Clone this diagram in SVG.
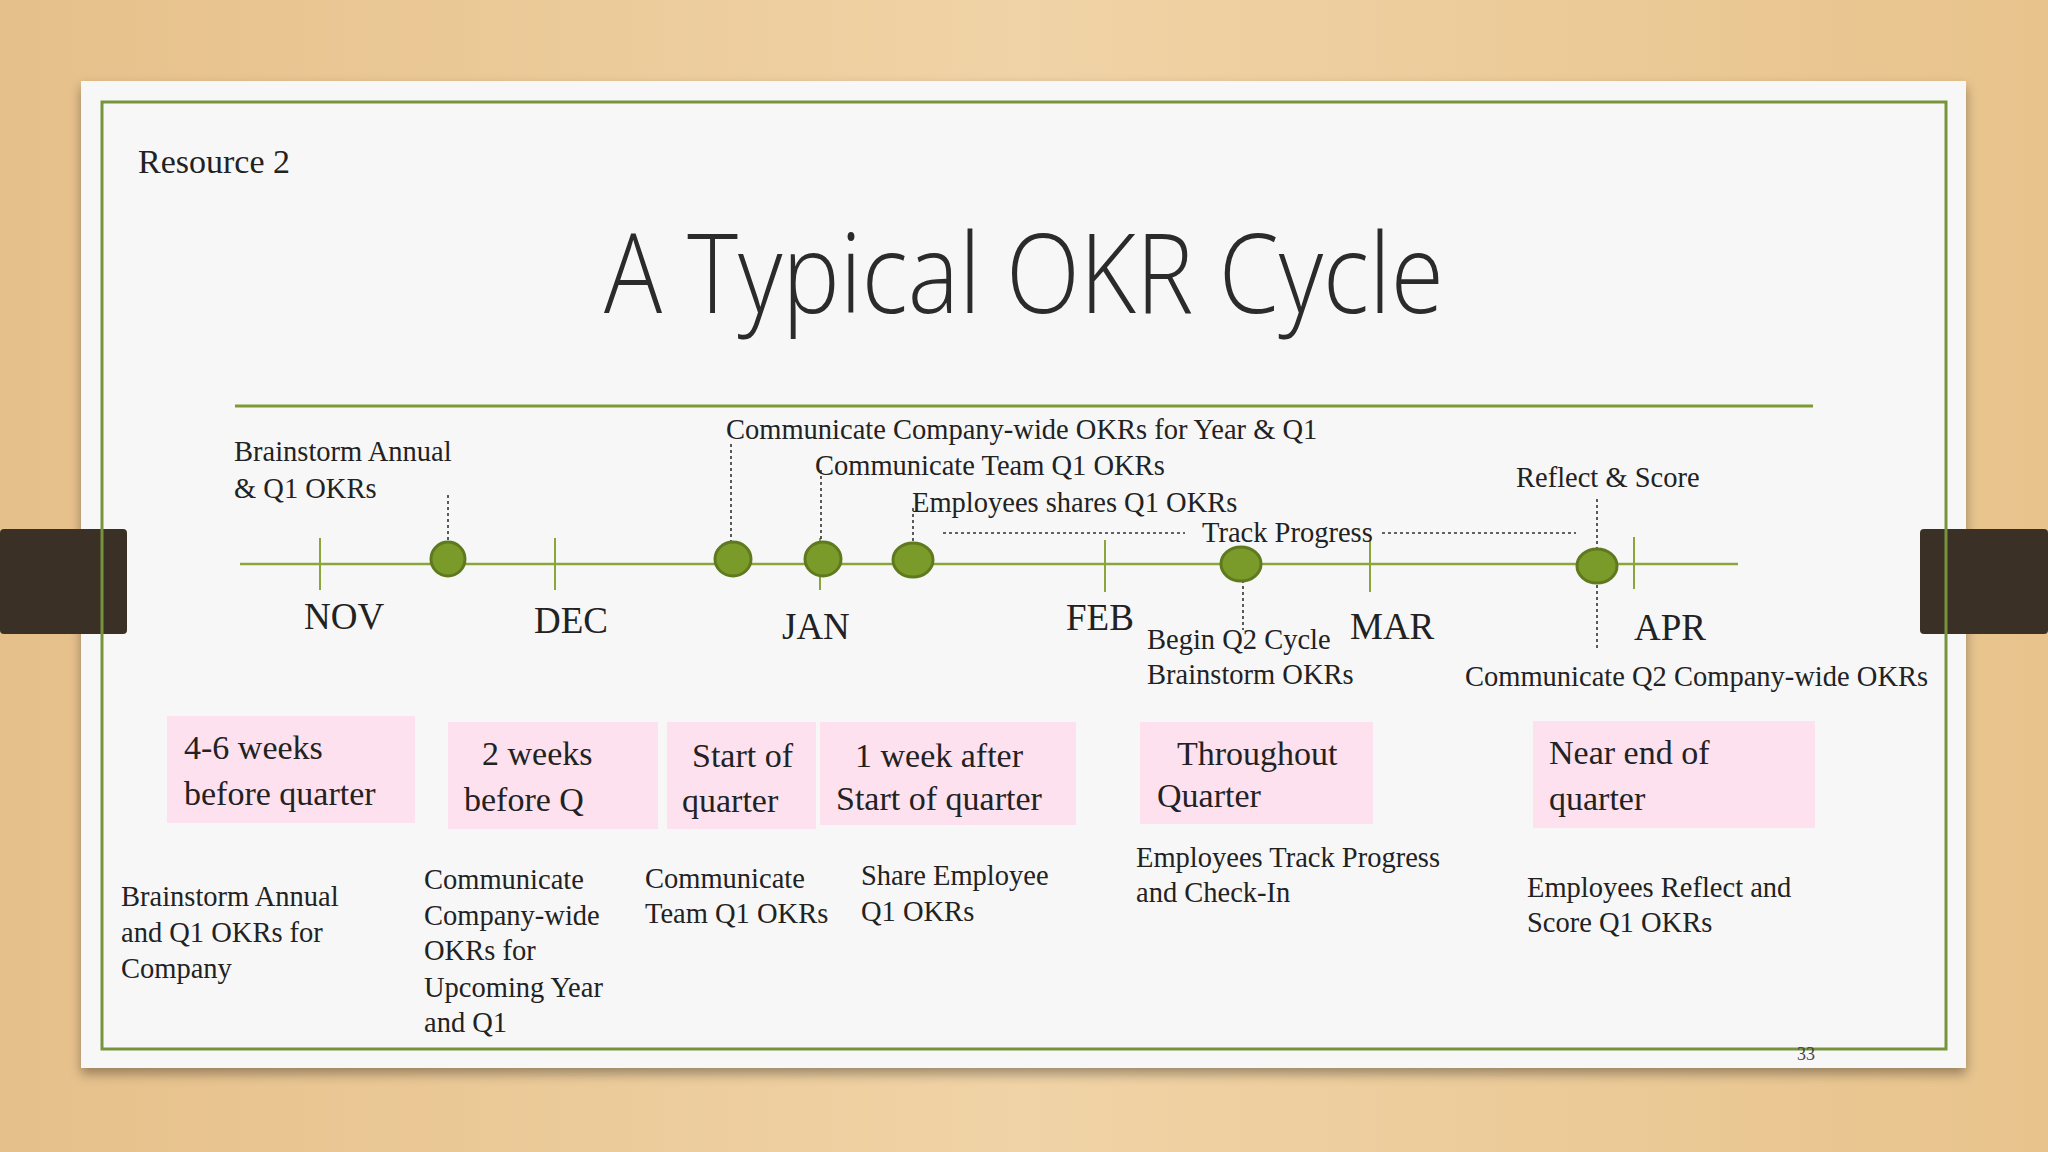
<svg xmlns="http://www.w3.org/2000/svg" width="2048" height="1152" viewBox="0 0 2048 1152">
<defs>
<linearGradient id="wood" x1="0" y1="0" x2="1" y2="0">
<stop offset="0" stop-color="#e6c08a"/><stop offset="0.5" stop-color="#f0d3a6"/><stop offset="1" stop-color="#e8c38c"/>
</linearGradient>
<filter id="sh" x="-5%" y="-5%" width="110%" height="115%"><feDropShadow dx="0" dy="6" stdDeviation="6" flood-color="#000" flood-opacity="0.35"/></filter>
<style>
.s{font-family:"Liberation Serif",serif;fill:#222;font-size:28.5px}
.m{font-family:"Liberation Serif",serif;fill:#222;font-size:37px}
.b{font-family:"Liberation Serif",serif;fill:#222;font-size:34px}
.box{fill:#fde1ef}
.dot{fill:#7a9a2a;stroke:#5f7a1e;stroke-width:3}
.tick{stroke:#8aa63a;stroke-width:2}
.dotl{stroke:#333;stroke-width:1.6;stroke-dasharray:3 3;fill:none}
</style>
</defs>
<rect width="2048" height="1152" fill="url(#wood)"/>
<rect x="81" y="81" width="1885" height="987" fill="#f7f7f8" filter="url(#sh)"/>
<rect x="0" y="529" width="127" height="105" rx="4" fill="#3a3026"/>
<rect x="1920" y="529" width="128" height="105" rx="4" fill="#3a3026"/>
<rect x="102" y="102" width="1844" height="947" fill="none" stroke="#77933c" stroke-width="3"/>
<text x="138" y="173" font-family="Liberation Serif,serif" font-size="34" fill="#222">Resource 2</text>
<text x="1024" y="313" font-family="Open Sans,sans-serif" font-size="110" font-weight="300" fill="#2b2b2b" text-anchor="middle" textLength="840" lengthAdjust="spacingAndGlyphs">A Typical OKR Cycle</text>
<line x1="235" y1="406" x2="1813" y2="406" stroke="#7f9a30" stroke-width="3"/>
<g id="connectors">
<line x1="240" y1="564" x2="1738" y2="564" stroke="#8aa63a" stroke-width="2.5"/>
<line class="tick" x1="320" y1="538" x2="320" y2="590"/>
<line class="tick" x1="555" y1="538" x2="555" y2="590"/>
<line class="tick" x1="820" y1="538" x2="820" y2="590"/>
<line class="tick" x1="1105" y1="540" x2="1105" y2="592"/>
<line class="tick" x1="1370" y1="540" x2="1370" y2="592"/>
<line class="tick" x1="1634" y1="537" x2="1634" y2="589"/>
<line class="dotl" x1="448" y1="495" x2="448" y2="541"/>
<line class="dotl" x1="731" y1="444" x2="731" y2="564"/>
<line class="dotl" x1="821" y1="470" x2="821" y2="556"/>
<line class="dotl" x1="913" y1="508" x2="913" y2="550"/>
<line class="dotl" x1="943" y1="533" x2="1185" y2="533"/>
<line class="dotl" x1="1382" y1="533" x2="1576" y2="533"/>
<line class="dotl" x1="1243" y1="580" x2="1243" y2="630"/>
<line class="dotl" x1="1597" y1="499" x2="1597" y2="548"/>
<line class="dotl" x1="1597" y1="585" x2="1597" y2="650"/>
</g>
<g id="events">
<ellipse class="dot" cx="448" cy="559" rx="17" ry="17"/>
<ellipse class="dot" cx="733" cy="559" rx="18" ry="17"/>
<ellipse class="dot" cx="823" cy="559" rx="18" ry="17"/>
<ellipse class="dot" cx="913" cy="560" rx="20" ry="17"/>
<ellipse class="dot" cx="1241" cy="564" rx="20" ry="17"/>
<ellipse class="dot" cx="1597" cy="566" rx="20" ry="17"/>
</g>
<g id="labels">
<text class="s" x="234" y="461">Brainstorm Annual</text>
<text class="s" x="234" y="498">&amp; Q1 OKRs</text>
<text class="s" x="726" y="439">Communicate Company-wide OKRs for Year &amp; Q1</text>
<text class="s" x="815" y="475">Communicate Team Q1 OKRs</text>
<text class="s" x="912" y="512">Employees shares Q1 OKRs</text>
<text class="s" x="1202" y="542">Track Progress</text>
<text class="s" x="1516" y="487">Reflect &amp; Score</text>
<text class="s" x="1147" y="649">Begin Q2 Cycle</text>
<text class="s" x="1147" y="684">Brainstorm OKRs</text>
<text class="s" x="1465" y="686">Communicate Q2 Company-wide OKRs</text>
<text class="m" x="304" y="629">NOV</text>
<text class="m" x="534" y="633">DEC</text>
<text class="m" x="782" y="639">JAN</text>
<text class="m" x="1066" y="630">FEB</text>
<text class="m" x="1350" y="639">MAR</text>
<text class="m" x="1634" y="640">APR</text>
</g>
<g id="box1"><rect class="box" x="167" y="716" width="248" height="107"/><text class="b" x="184" y="759">4-6 weeks</text><text class="b" x="184" y="805">before quarter</text></g>
<g id="box2"><rect class="box" x="448" y="722" width="210" height="107"/><text class="b" x="482" y="765">2 weeks</text><text class="b" x="464" y="811">before Q</text></g>
<g id="box3"><rect class="box" x="667" y="722" width="149" height="107"/><text class="b" x="692" y="767">Start of</text><text class="b" x="682" y="812">quarter</text></g>
<g id="box4"><rect class="box" x="820" y="722" width="256" height="103"/><text class="b" x="855" y="767" font-size="31">1 week after</text><text class="b" x="836" y="810" font-size="31">Start of quarter</text></g>
<g id="box5"><rect class="box" x="1140" y="722" width="233" height="102"/><text class="b" x="1177" y="765" font-size="31">Throughout</text><text class="b" x="1157" y="807" font-size="31">Quarter</text></g>
<g id="box6"><rect class="box" x="1533" y="721" width="282" height="107"/><text class="b" x="1549" y="764" font-size="36">Near end of</text><text class="b" x="1549" y="810" font-size="36">quarter</text></g>
<g id="descriptions">
<text class="s" x="121" y="906">Brainstorm Annual</text>
<text class="s" x="121" y="942">and Q1 OKRs for</text>
<text class="s" x="121" y="978">Company</text>
<text class="s" x="424" y="889">Communicate</text>
<text class="s" x="424" y="925">Company-wide</text>
<text class="s" x="424" y="960">OKRs for</text>
<text class="s" x="424" y="997">Upcoming Year</text>
<text class="s" x="424" y="1032">and Q1</text>
<text class="s" x="645" y="888">Communicate</text>
<text class="s" x="645" y="923">Team Q1 OKRs</text>
<text class="s" x="861" y="885">Share Employee</text>
<text class="s" x="861" y="921">Q1 OKRs</text>
<text class="s" x="1136" y="867">Employees Track Progress</text>
<text class="s" x="1136" y="902">and Check-In</text>
<text class="s" x="1527" y="897">Employees Reflect and</text>
<text class="s" x="1527" y="932">Score Q1 OKRs</text>
<text x="1797" y="1060" font-family="Liberation Serif,serif" font-size="18" fill="#444">33</text>
</g>
</svg>
